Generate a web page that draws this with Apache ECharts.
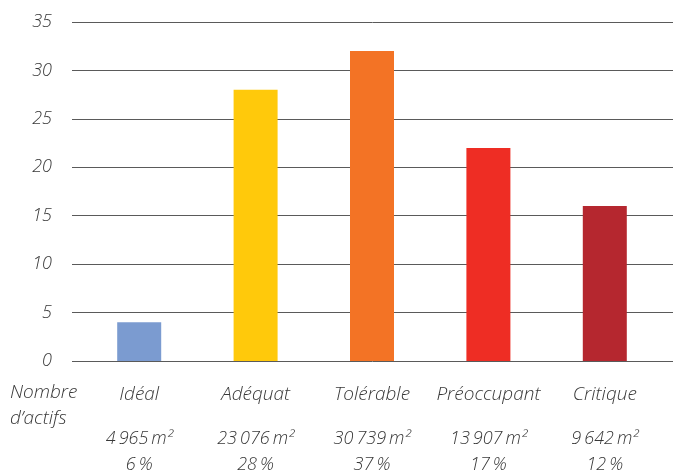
<!DOCTYPE html>
<html>
<head>
<meta charset="utf-8">
<script src="https://cdn.jsdelivr.net/npm/echarts@6/dist/echarts.min.js"></script>
<style>html,body{margin:0;padding:0;background:#fff}#c{width:681px;height:476px}</style>
</head>
<body>
<div id="c"></div>
<script>
const categories = ['Idéal', 'Adéquat', 'Tolérable', 'Préoccupant', 'Critique'];
const counts = [4, 28, 32, 22, 16];
const areas = ['4\u2009965\u2009m²', '23\u2009076\u2009m²', '30\u2009739\u2009m²', '13\u2009907\u2009m²', '9\u2009642\u2009m²'];
const shares = ['6\u2009%', '28\u2009%', '37\u2009%', '17\u2009%', '12\u2009%'];
const colors = ['#7b9bd0', '#ffc90b', '#f37325', '#ee2d24', '#b5272f'];
const yMin = 0, yMax = 35, yStep = 5;

const FONT = '"Open Sans"';
const TXT = '#383838';
const W = 300;
const chart = echarts.init(document.getElementById('c'));
chart.setOption({
  animation: false,
  backgroundColor: '#fff',
  grid: [
    { left: 81, right: 18, top: 22, bottom: 115 },
    { left: 72, right: 8, top: 22, bottom: 115 }
  ],
  xAxis: [
    {
      type: 'category', gridIndex: 0, data: categories,
      axisLine: { show: false }, axisTick: { show: false },
      axisLabel: {
        margin: 3,
        interval: 0,
        formatter: (v, i) => `{a|${v}}\n{b|${areas[i]}}\n{b|${shares[i]}}`,
        rich: {
          a: { fontFamily: FONT, fontStyle: 'italic', fontWeight: W, fontSize: 19, color: TXT, lineHeight: 62 },
          b: { fontFamily: FONT, fontStyle: 'italic', fontWeight: W, fontSize: 18, color: TXT, lineHeight: 26 }
        }
      }
    },
    { type: 'value', gridIndex: 1, show: false, min: 0, max: 1 }
  ],
  yAxis: [
    { type: 'value', gridIndex: 0, min: yMin, max: yMax, interval: yStep, show: false, splitLine: { show: false } },
    {
      type: 'value', gridIndex: 1, min: yMin, max: yMax, interval: yStep,
      axisLine: { show: false }, axisTick: { show: false },
      splitLine: { lineStyle: { color: '#5a5a5a', width: 1 } },
      axisLabel: { margin: 20, fontFamily: FONT, fontStyle: 'italic', fontWeight: W, fontSize: 18, color: TXT, padding: [0, 0, 7, 0] }
    }
  ],
  graphic: [{
    type: 'text', left: 10, top: 380,
    style: { text: 'Nombre\nd\u2019actifs', fontFamily: FONT, fontStyle: 'italic', fontWeight: W, fontSize: 19, fill: TXT, lineHeight: 26, align: 'center' }
  }],
  series: [{
    type: 'bar', xAxisIndex: 0, yAxisIndex: 0,
    barWidth: 44,
    data: counts.map((v, i) => ({ value: v, itemStyle: { color: colors[i] } }))
  }]
});
</script>
</body>
</html>
